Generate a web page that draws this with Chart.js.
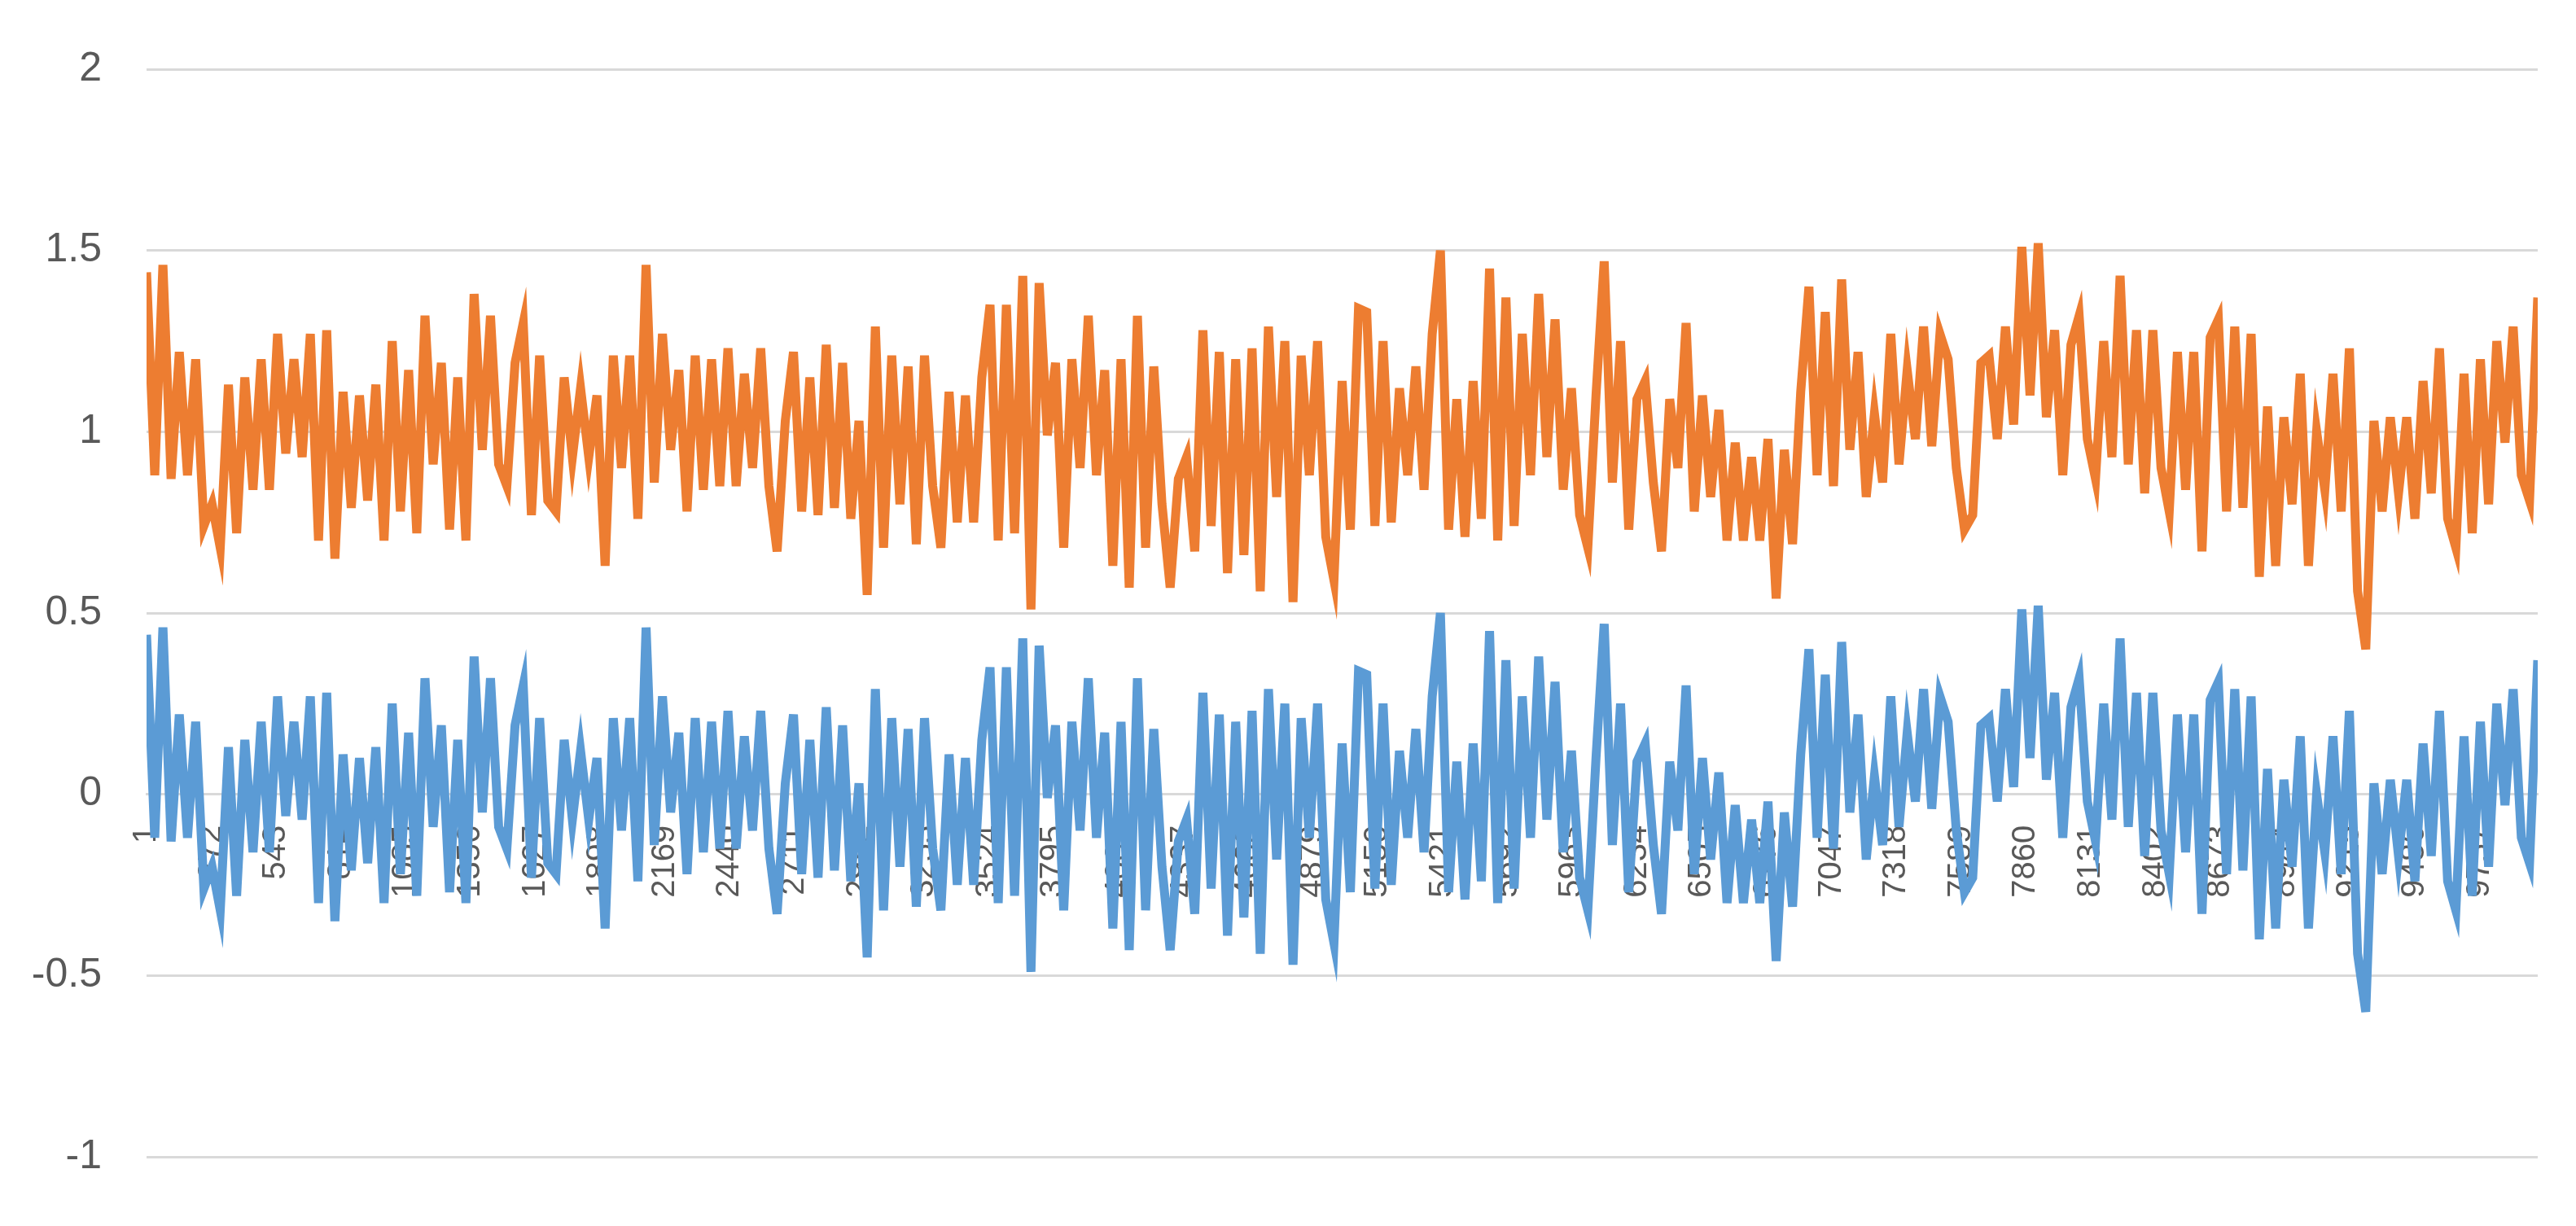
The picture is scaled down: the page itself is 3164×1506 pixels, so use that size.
<!DOCTYPE html>
<html><head><meta charset="utf-8">
<script src="https://cdn.jsdelivr.net/npm/chart.js@4"></script>
<style>html,body{margin:0;padding:0;background:#fff}#wrap{width:3164px;height:1506px}</style>
</head><body><div id="wrap"><canvas id="c"></canvas></div>
<script>
const xTickLabels = [1,272,543,814,1085,1356,1627,1898,2169,2440,2711,2982,3253,3524,3795,4066,4337,4608,4879,5150,5421,5692,5963,6234,6505,6776,7047,7318,7589,7860,8131,8402,8673,8944,9215,9486,9757];
const yTicks = [-1,-0.5,0,0.5,1,1.5,2];
const seriesOrange = [
1.44,0.88,1.46,0.87,1.22,0.88,1.2,0.74,0.8,0.68,1.13,0.72,1.15,0.84,1.2,0.84,1.27,0.94,1.2,0.93,1.27,0.7,1.28,0.65,1.11,0.79,1.1,0.81,1.13,0.7,1.25,0.78,1.17,0.72,1.32,0.91,1.19,0.73,1.15,0.70,1.38,0.95,1.32,0.91,0.85,1.19,1.30,0.77,1.21,0.81,0.78,1.15,0.93,
1.12,0.93,1.1,0.63,1.21,0.9,1.21,0.76,1.46,0.86,1.27,0.95,1.17,0.78,1.21,0.84,1.2,0.85,1.23,0.85,1.16,0.9,1.23,0.85,0.67,1.03,1.22,0.78,1.15,0.77,1.24,0.79,1.19,0.76,1.03,0.55,1.29,0.68,1.21,0.8,1.18,0.69,1.21,0.85,0.68,1.11,0.75,1.1,
0.75,1.15,1.35,0.70,1.35,0.72,1.43,0.51,1.41,0.99,1.19,0.68,1.2,0.9,1.32,0.88,1.17,0.63,1.2,0.57,1.32,0.68,1.18,0.8,0.57,0.87,0.93,0.67,1.28,0.74,1.22,0.61,1.2,0.66,1.23,0.56,1.29,0.82,1.25,0.53,1.21,0.88,1.25,0.71,0.59,1.14,0.73,1.34,
1.33,0.74,1.25,0.75,1.12,0.88,1.18,0.84,1.27,1.50,0.73,1.09,0.71,1.14,0.76,1.45,0.70,1.37,0.74,1.27,0.88,1.38,0.93,1.31,0.84,1.12,0.77,0.68,1.1,1.47,0.86,1.25,0.73,1.09,1.14,0.86,0.67,1.09,0.9,1.3,0.78,1.1,0.82,1.06,0.7,0.97,0.7,0.93,
0.70,0.98,0.54,0.95,0.69,1.11,1.40,0.88,1.33,0.85,1.42,0.95,1.22,0.82,1.05,0.86,1.27,0.91,1.17,0.98,1.29,0.96,1.27,1.2,0.9,0.73,0.77,1.19,1.21,0.98,1.29,1.02,1.51,1.1,1.52,1.04,1.28,0.88,1.24,1.32,0.98,0.87,1.25,0.93,1.43,0.91,1.28,0.83,
1.28,0.90,0.78,1.22,0.84,1.22,0.67,1.26,1.31,0.78,1.29,0.79,1.27,0.60,1.07,0.63,1.04,0.8,1.16,0.63,1.0,0.84,1.16,0.78,1.23,0.56,0.40,1.03,0.78,1.04,0.83,1.04,0.76,1.14,0.83,1.23,0.76,0.68,1.16,0.72,1.2,0.80,1.25,0.97,1.29,0.88,0.81,1.37];
const seriesBlue = [
0.44,-0.12,0.46,-0.13,0.22,-0.12,0.2,-0.26,-0.2,-0.32,0.13,-0.28,0.15,-0.16,0.2,-0.16,0.27,-0.06,0.2,-0.07,0.27,-0.3,0.28,-0.35,0.11,-0.21,0.1,-0.19,0.13,-0.3,0.25,-0.22,0.17,-0.28,0.32,-0.09,0.19,-0.27,0.15,-0.3,0.38,-0.05,0.32,-0.09,-0.15,0.19,0.3,-0.23,0.21,-0.19,-0.22,0.15,-0.07,
0.12,-0.07,0.1,-0.37,0.21,-0.1,0.21,-0.24,0.46,-0.14,0.27,-0.05,0.17,-0.22,0.21,-0.16,0.2,-0.15,0.23,-0.15,0.16,-0.1,0.23,-0.15,-0.33,0.03,0.22,-0.22,0.15,-0.23,0.24,-0.21,0.19,-0.24,0.03,-0.45,0.29,-0.32,0.21,-0.2,0.18,-0.31,0.21,-0.15,-0.32,0.11,-0.25,0.1,
-0.25,0.15,0.35,-0.3,0.35,-0.28,0.43,-0.49,0.41,-0.01,0.19,-0.32,0.2,-0.1,0.32,-0.12,0.17,-0.37,0.2,-0.43,0.32,-0.32,0.18,-0.2,-0.43,-0.13,-0.07,-0.33,0.28,-0.26,0.22,-0.39,0.2,-0.34,0.23,-0.44,0.29,-0.18,0.25,-0.47,0.21,-0.12,0.25,-0.29,-0.41,0.14,-0.27,0.34,
0.33,-0.26,0.25,-0.25,0.12,-0.12,0.18,-0.16,0.27,0.5,-0.27,0.09,-0.29,0.14,-0.24,0.45,-0.3,0.37,-0.26,0.27,-0.12,0.38,-0.07,0.31,-0.16,0.12,-0.23,-0.32,0.1,0.47,-0.14,0.25,-0.27,0.09,0.14,-0.14,-0.33,0.09,-0.1,0.3,-0.22,0.1,-0.18,0.06,-0.3,-0.03,-0.3,-0.07,
-0.3,-0.02,-0.46,-0.05,-0.31,0.11,0.4,-0.12,0.33,-0.15,0.42,-0.05,0.22,-0.18,0.05,-0.14,0.27,-0.09,0.17,-0.02,0.29,-0.04,0.27,0.2,-0.1,-0.27,-0.23,0.19,0.21,-0.02,0.29,0.02,0.51,0.1,0.52,0.04,0.28,-0.12,0.24,0.32,-0.02,-0.13,0.25,-0.07,0.43,-0.09,0.28,-0.17,
0.28,-0.1,-0.22,0.22,-0.16,0.22,-0.33,0.26,0.31,-0.22,0.29,-0.21,0.27,-0.4,0.07,-0.37,0.04,-0.2,0.16,-0.37,0,-0.16,0.16,-0.22,0.23,-0.44,-0.6,0.03,-0.22,0.04,-0.17,0.04,-0.24,0.14,-0.17,0.23,-0.24,-0.32,0.16,-0.28,0.2,-0.2,0.25,-0.03,0.29,-0.12,-0.19,0.37];
const xMin = 1, xMax = 10000;

const n = seriesOrange.length;
const xAt = i => xMin + (xMax - xMin) * i / (n - 1);
const toPts = arr => arr.map((v, i) => ({x: xAt(i), y: v}));

const bg = {id:'bg', beforeDraw(c){const x=c.ctx;x.save();x.fillStyle='#fff';x.fillRect(0,0,c.width,c.height);x.restore();}};

new Chart(document.getElementById('c'), {
  type: 'line',
  data: { datasets: [
    { label: 'Series1', data: toPts(seriesBlue), borderColor: '#5B9BD5', borderWidth: 11, pointRadius: 0, tension: 0, borderJoinStyle: 'miter' },
    { label: 'Series2', data: toPts(seriesOrange), borderColor: '#ED7D31', borderWidth: 11, pointRadius: 0, tension: 0, borderJoinStyle: 'miter' }
  ]},
  options: {
    responsive: true, maintainAspectRatio: false, animation: false,
    layout: { padding: { top: 62, bottom: 63, right: 47, left: 0 } },
    plugins: { legend: { display: false }, tooltip: { enabled: false } },
    scales: {
      x: {
        type: 'linear', min: xMin, max: xMax, position: { y: 0 }, z: 1,
        afterBuildTicks: ax => { ax.ticks = xTickLabels.map(v => ({ value: v })); },
        grid: { display: false, drawTicks: false },
        border: { display: true, color: '#d9d9d9', width: 3 },
        ticks: { autoSkip: false, minRotation: 90, maxRotation: 90, padding: 38,
          color: '#595959', font: { family: 'Liberation Sans', size: 40 },
          callback: v => String(v) }
      },
      y: {
        min: -1, max: 2,
        afterBuildTicks: ax => { ax.ticks = yTicks.map(v => ({ value: v })); },
        afterFit: ax => { ax.width = 180; },
        grid: { color: '#d9d9d9', lineWidth: 3, drawTicks: false },
        border: { display: false },
        ticks: { padding: 55, color: '#595959', font: { family: 'Liberation Sans', size: 50 },
          callback: v => String(v) }
      }
    }
  },
  plugins: [bg]
});
</script></body></html>
